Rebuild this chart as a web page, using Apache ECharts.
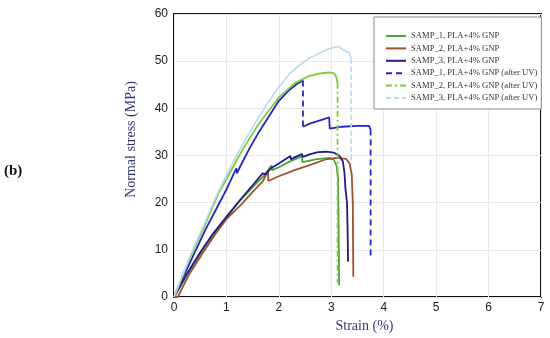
<!DOCTYPE html>
<html><head><meta charset="utf-8">
<script src="https://cdn.jsdelivr.net/npm/echarts@6/dist/echarts.min.js"></script>
<style>html,body{margin:0;padding:0;background:#fff}#c{width:550px;height:338px}</style>
</head><body><div id="c"></div>
<script>
// ---- data ----
const seriesNames = [
  'SAMP_1, PLA+4% GNP',
  'SAMP_2, PLA+4% GNP',
  'SAMP_3, PLA+4% GNP',
  'SAMP_1, PLA+4% GNP (after UV)',
  'SAMP_2, PLA+4% GNP (after UV)',
  'SAMP_3, PLA+4% GNP (after UV)'
];
const xTicks = [0,1,2,3,4,5,6,7];
const yTicks = [0,10,20,30,40,50,60];

const s1Strain = [0,0.3,0.55,0.8,1.0,1.25,1.5,1.7,1.86,1.87,2.0,2.2,2.44,2.45,2.7,2.96,3.05,3.1,3.13,3.14,3.15];
const s1Stress = [0,5.6,10,14,16.8,20.3,23.3,25.5,27.9,26.9,27.5,28.7,29.8,28.6,29.2,29.5,29.1,27.8,25,15,2.5];

const s2Strain = [0,0.07,0.3,0.57,0.8,1.0,1.28,1.5,1.7,1.79,1.8,2.0,2.3,2.6,2.9,3.1,3.28,3.35,3.39,3.41,3.42];
const s2Stress = [0,0,5,9.7,13.5,16.5,19.6,22.3,24.6,26.8,24.6,25.6,26.9,28,29.2,29.5,29.3,28.3,26,20,4.3];

const s3Strain = [0,0.25,0.52,0.75,1.0,1.24,1.5,1.69,1.75,1.85,2.0,2.22,2.23,2.3,2.44,2.46,2.6,2.75,2.9,3.05,3.15,3.22,3.25,3.27,3.3,3.31,3.32];
const s3Stress = [0,5,9.8,13.5,17,20.3,23.7,26.2,26,27.3,28.3,29.9,29.2,29.6,30.3,29.7,30.3,30.7,30.8,30.6,30,28.8,26.5,23,20,15,7.5];

const u1Strain = [0,0.3,0.6,1.0,1.19,1.2,1.25,1.43,1.62,2.0,2.2,2.35,2.46,2.46,2.6,2.8,2.96,2.97,3.2,3.5,3.72,3.75,3.75];
const u1Stress = [0,7.2,14.3,22.8,27.3,26.2,27.4,31.3,35,41.6,43.9,45.2,45.9,36.1,36.8,37.5,38.1,35.7,36.1,36.3,36.3,35.5,8.7];

const u2Strain = [0,0.3,0.6,0.84,1.0,1.31,1.62,2.0,2.3,2.58,2.8,2.96,3.05,3.09,3.12,3.12];
const u2Stress = [0,8.2,15.5,21.8,25,31.3,36.8,42.3,45.3,46.9,47.4,47.6,47.4,46.8,45.4,3];

const u3Strain = [0,0.3,0.6,0.81,1.0,1.24,1.5,1.75,1.94,2.2,2.4,2.58,2.75,2.9,3.05,3.15,3.2,3.28,3.34,3.38,3.38];
const u3Stress = [0,8.5,16,21.5,25.8,31,36,40.5,43.6,47.3,49.2,50.6,51.6,52.4,52.9,53.1,52.6,52.1,51.8,50.5,29];

const colors = ['#4aa33a','#a0522d','#1c1c8c','#2424cc','#7acc33','#b3daf2'];

// ---- build ----
function pairs(xs, ys){ return xs.map((x,i)=>[x, ys[i]]); }
const GAP = ['-','-'];
function split(xs, ys){
  const solid=[], dashed=[]; let lastS=-1, lastD=-1;
  for(let i=0;i<xs.length-1;i++){
    const vertical = xs[i]===xs[i+1];
    if(vertical){
      if(lastD!==i){ if(dashed.length) dashed.push(GAP); dashed.push([xs[i],ys[i]]); }
      dashed.push([xs[i+1],ys[i+1]]); lastD=i+1;
    } else {
      if(lastS!==i){ if(solid.length) solid.push(GAP); solid.push([xs[i],ys[i]]); }
      solid.push([xs[i+1],ys[i+1]]); lastS=i+1;
    }
  }
  return {solid, dashed};
}
function base(name, data, color, width, type){
  return {name, type:'line', data, showSymbol:false, symbol:'none', silent:true,
    lineStyle:{color, width, type}, itemStyle:{color}, animation:false, connectNulls:false};
}
const solidCurves = [[s1Strain,s1Stress],[s2Strain,s2Stress],[s3Strain,s3Stress]];
const uvCurves = [[u1Strain,u1Stress],[u2Strain,u2Stress],[u3Strain,u3Stress]];
const dashTypes = [[6,4],[6,3,2,3],[5,3]];
const widths = [1.8,1.8,1.8,1.8,1.8,1.6];

const series = [];
solidCurves.forEach((c,i)=>series.push(base(seriesNames[i], pairs(c[0],c[1]), colors[i], widths[i], 'solid')));
uvCurves.forEach((c,k)=>{
  const i=k+3; const sp = split(c[0],c[1]);
  series.push(base(seriesNames[i], sp.dashed, colors[i], widths[i], dashTypes[k]));
  series.push(base(seriesNames[i]+' body', sp.solid, colors[i], widths[i], 'solid'));
});

const chart = echarts.init(document.getElementById('c'), null, {renderer:'canvas'});
chart.setOption({
  backgroundColor:'#fff',
  animation:false,
  grid:{left:174, right:9, top:14, bottom:40, show:true, borderColor:'#111', borderWidth:2, backgroundColor:'transparent'},
  xAxis:{type:'value', min:xTicks[0], max:xTicks[xTicks.length-1], interval:1,
    name:'Strain (%)', nameLocation:'middle', nameGap:22,
    nameTextStyle:{fontFamily:'Liberation Serif', fontSize:14, color:'#35357a', padding:[0,0,0,14]},
    axisLine:{show:false}, axisTick:{show:false},
    axisLabel:{fontFamily:'Liberation Sans', fontSize:12, color:'#222', margin:5},
    splitLine:{lineStyle:{color:'#e8e8e8', width:1}}},
  yAxis:{type:'value', min:yTicks[0], max:yTicks[yTicks.length-1], interval:10,
    name:'Normal stress (MPa)', nameLocation:'middle', nameGap:36,
    nameTextStyle:{fontFamily:'Liberation Serif', fontSize:14, color:'#35357a', padding:[0,0,0,32]},
    axisLine:{show:false}, axisTick:{show:false},
    axisLabel:{fontFamily:'Liberation Sans', fontSize:12, color:'#222', margin:6},
    splitLine:{lineStyle:{color:'#e8e8e8', width:1}}},
  legend:{data:seriesNames, orient:'vertical', left:374, top:17,
    padding:[14,4,6,11], itemWidth:20, itemHeight:10, itemGap:2.4,
    backgroundColor:'#fff', borderColor:'#888', borderWidth:1,
    itemStyle:{opacity:0}, selectedMode:false,
    textStyle:{fontFamily:'Liberation Serif', fontSize:8.6, color:'#333', lineHeight:10}},
  graphic:[{type:'text', left:4, top:164, style:{text:'(b)', font:'bold 15px "Liberation Serif"', fill:'#111'}}],
  series
});
</script></body></html>
